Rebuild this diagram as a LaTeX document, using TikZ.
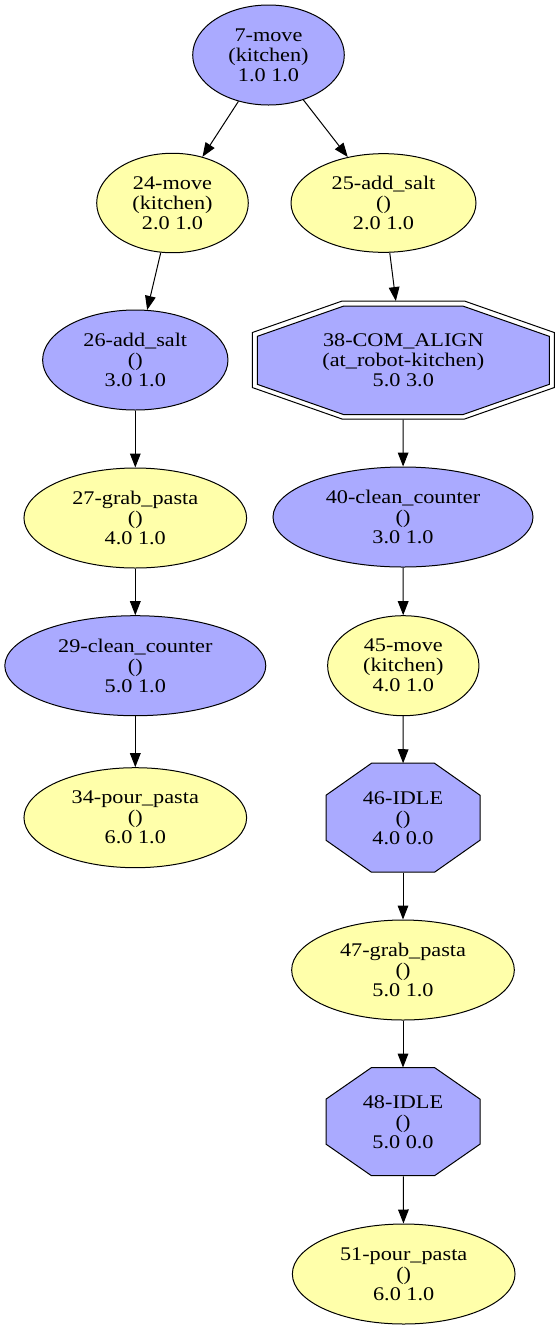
\documentclass[tikz,border=0pt]{standalone}
\usepackage{fontspec}
\setmainfont{Liberation Serif}[FakeStretch=1.15]
\usetikzlibrary{shapes.geometric,arrows.meta,backgrounds}
\definecolor{nodeblue}{RGB}{170,170,255}
\definecolor{nodeyellow}{RGB}{255,255,170}
\tikzset{
  base/.style={inner sep=0pt, align=center, font=\fontsize{14.5pt}{15pt}\selectfont},
  ell/.style={base, ellipse, draw, line width=0.75pt},
  bnode/.style={ell, fill=nodeblue},
  ynode/.style={ell, fill=nodeyellow},
  octnode/.style={base, rectangle, draw=none},
  octline/.style={draw, line width=0.75pt, fill=nodeblue, line join=miter},
  octouter/.style={draw, line width=0.75pt, fill=white, line join=miter},
  edge/.style={line width=0.75pt, -{Triangle[length=10.5pt,width=8pt]}},
}
\begin{document}
\begin{tikzpicture}[x=0.75pt,y=-0.75pt]
\useasboundingbox (0,0) rectangle (560,1329);
% left / top nodes
\node[bnode, minimum width=113.7pt, minimum height=75pt] (n7) at (268.5,55) {7-move\\(kitchen)\\1.0 1.0};
\node[ynode, minimum width=113.7pt, minimum height=74.6pt] (n24) at (172.5,203) {24-move\\(kitchen)\\2.0 1.0};
\node[ynode, minimum width=138.75pt, minimum height=74pt] (n25) at (383.5,203) {25-add\_salt\\()\\2.0 1.0};
\node[bnode, minimum width=139pt, minimum height=75pt] (n26) at (135.3,360) {26-add\_salt\\()\\3.0 1.0};
\node[ynode, minimum width=167pt, minimum height=75pt] (n27) at (135.3,518) {27-grab\_pasta\\()\\4.0 1.0};
\node[bnode, minimum width=195.75pt, minimum height=75pt] (n29) at (135.3,665.7) {29-clean\_counter\\()\\5.0 1.0};
\node[ynode, minimum width=167pt, minimum height=75pt] (n34) at (135.3,817.7) {34-pour\_pasta\\()\\6.0 1.0};
% right column
\node[octnode, minimum width=226.5pt, minimum height=88.5pt] (n38) at (403.3,360.3) {38-COM\_ALIGN\\(at\_robot-kitchen)\\5.0 3.0};
\node[bnode, minimum width=195pt, minimum height=75pt] (n40) at (403,517) {40-clean\_counter\\()\\3.0 1.0};
\node[ynode, minimum width=113.5pt, minimum height=75pt] (n45) at (403.3,665.7) {45-move\\(kitchen)\\4.0 1.0};
\node[octnode, minimum width=115.5pt, minimum height=81.75pt] (n46) at (403,818) {46-IDLE\\()\\4.0 0.0};
\node[ynode, minimum width=167pt, minimum height=75pt] (n47) at (403,970) {47-grab\_pasta\\()\\5.0 1.0};
\node[octnode, minimum width=115.5pt, minimum height=81.3pt] (n48) at (403,1122) {48-IDLE\\()\\5.0 0.0};
\node[ynode, minimum width=167pt, minimum height=75pt] (n51) at (403.7,1274) {51-pour\_pasta\\()\\6.0 1.0};
% octagon outlines
\begin{pgfonlayer}{background}
\draw[octouter] (n38.north) ++(-61.2,0) -- ++(122.4,0) -- ++(89.8,31.5) -- ++(0,55) -- ++(-89.8,31.5) -- ++(-122.4,0) -- ++(-89.8,-31.5) -- ++(0,-55) -- cycle;
\draw[octline] (n38.north) ++(-59.5,5) -- ++(119,0) -- ++(86.5,30.3) -- ++(0,48) -- ++(-86.5,30.3) -- ++(-119,0) -- ++(-86.5,-30.3) -- ++(0,-48) -- cycle;
\draw[octline] (n46.north) ++(-31.5,0) -- ++(63,0) -- ++(45.5,32) -- ++(0,45) -- ++(-45.5,32) -- ++(-63,0) -- ++(-45.5,-32) -- ++(0,-45) -- cycle;
\draw[octline] (n48.north) ++(-31.5,0) -- ++(63,0) -- ++(45.5,31.6) -- ++(0,45) -- ++(-45.5,31.6) -- ++(-63,0) -- ++(-45.5,-31.6) -- ++(0,-45) -- cycle;
\end{pgfonlayer}
% edges
\draw[edge] (n7) -- (n24);
\draw[edge] (n7) -- (n25);
\draw[edge] (n24) -- (n26);
\draw[edge] (n26) -- (n27);
\draw[edge] (n27) -- (n29);
\draw[edge] (n29) -- (n34);
\draw[edge] (n25) -- (n38);
\draw[edge] (n38) -- (n40);
\draw[edge] (n40) -- (n45);
\draw[edge] (n45) -- (n46);
\draw[edge] (n46) -- (n47);
\draw[edge] (n47) -- (n48);
\draw[edge] (n48) -- (n51);
\end{tikzpicture}
\end{document}
